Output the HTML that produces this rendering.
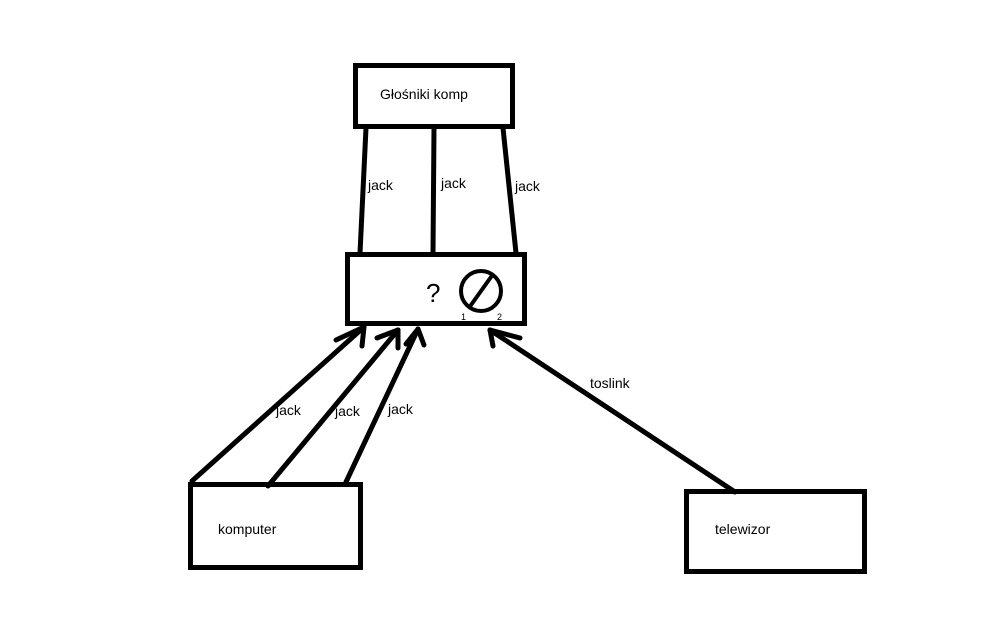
<!DOCTYPE html>
<html><head><meta charset="utf-8"><style>
html,body{margin:0;padding:0;background:#fff;}
svg{display:block;}
text{font-family:"Liberation Sans",sans-serif;font-size:14px;fill:#000;}
</style></head><body>
<svg width="1008" height="630" viewBox="0 0 1008 630" xmlns="http://www.w3.org/2000/svg">
<g fill="none" stroke="#000" stroke-width="5" stroke-linecap="round">
<rect x="355.5" y="65.5" width="157" height="61"/>
<rect x="347.5" y="254.5" width="177" height="69"/>
<rect x="190.5" y="484.5" width="170" height="83"/>
<rect x="686.5" y="491.5" width="178" height="80"/>
<line x1="366" y1="128" x2="360" y2="253"/>
<line x1="434" y1="128" x2="433" y2="253"/>
<line x1="503" y1="128" x2="516" y2="253"/>
<line x1="192" y1="481" x2="364" y2="327"/>
<line x1="336" y1="340" x2="364" y2="327"/><line x1="362" y1="346" x2="364" y2="327"/>
<line x1="268" y1="486" x2="398" y2="330"/>
<line x1="377" y1="338" x2="398" y2="330"/><line x1="398" y1="348" x2="398" y2="330"/>
<line x1="346" y1="482" x2="418" y2="329"/>
<line x1="406" y1="344" x2="418" y2="329"/><line x1="424" y1="345" x2="418" y2="329"/>
<line x1="735" y1="492" x2="490" y2="330"/>
<line x1="493" y1="346" x2="490" y2="330"/><line x1="520" y1="338" x2="490" y2="330"/>
<circle cx="481" cy="291" r="20" stroke-width="4"/>
<line x1="471" y1="305" x2="491" y2="277" stroke-width="4"/>
</g>
<text x="380" y="99">Głośniki komp</text>
<text x="368" y="190">jack</text>
<text x="441" y="188">jack</text>
<text x="515" y="191">jack</text>
<text x="426" y="302" style="font-size:26px">?</text>
<text x="461" y="320" style="font-size:9px">1</text>
<text x="497" y="320" style="font-size:9px">2</text>
<text x="276" y="415">jack</text>
<text x="335" y="416">jack</text>
<text x="388" y="414">jack</text>
<text x="590" y="388">toslink</text>
<text x="218" y="534">komputer</text>
<text x="715" y="534">telewizor</text>
</svg>
</body></html>
